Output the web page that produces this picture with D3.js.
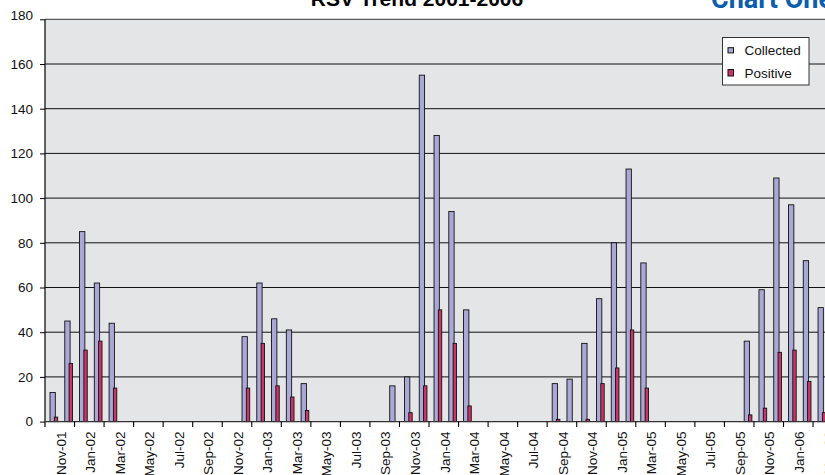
<!DOCTYPE html>
<html>
<head>
<meta charset="utf-8">
<script src="https://cdn.jsdelivr.net/npm/d3@7/dist/d3.min.js"></script>
<style>
  html, body { margin: 0; padding: 0; background: #fff; }
  svg { display: block; font-family: "Liberation Sans", Arial, sans-serif; }
</style>
</head>
<body>
<svg id="chart" width="825" height="475"></svg>
<script>
// Monthly RSV specimens, Nov 2001 – Mar 2006
const months = [
  "Nov-01","Dec-01",
  "Jan-02","Feb-02","Mar-02","Apr-02","May-02","Jun-02","Jul-02","Aug-02","Sep-02","Oct-02","Nov-02","Dec-02",
  "Jan-03","Feb-03","Mar-03","Apr-03","May-03","Jun-03","Jul-03","Aug-03","Sep-03","Oct-03","Nov-03","Dec-03",
  "Jan-04","Feb-04","Mar-04","Apr-04","May-04","Jun-04","Jul-04","Aug-04","Sep-04","Oct-04","Nov-04","Dec-04",
  "Jan-05","Feb-05","Mar-05","Apr-05","May-05","Jun-05","Jul-05","Aug-05","Sep-05","Oct-05","Nov-05","Dec-05",
  "Jan-06","Feb-06","Mar-06"
];

// Specimens collected (null = no testing that month)
const collected = [
  13, 45,
  85, 62, 44, null, null, null, null, null, null, null, null, 38,
  62, 46, 41, 17, null, null, null, null, null, 16, 20, 155,
  128, 94, 50, null, null, null, null, null, 17, 19, 35, 55,
  80, 113, 71, null, null, null, null, null, null, 36, 59, 109,
  97, 72, 51
];

// Specimens positive for RSV
const positive = [
  2, 26,
  32, 36, 15, null, null, null, null, null, null, null, null, 15,
  35, 16, 11, 5, null, null, null, null, null, 0, 4, 16,
  50, 35, 7, null, null, null, null, null, 1, 0, 1, 17,
  24, 41, 15, null, null, null, null, null, null, 3, 6, 31,
  32, 18, 4
];

const yTicks = [0, 20, 40, 60, 80, 100, 120, 140, 160, 180];
const seriesNames = ["Collected", "Positive"];
const seriesColors = ["#A9A9D8", "#CC3366"];

const svg = d3.select("#chart");

const plotLeft = 45, plotTop = 19.3, plotBottom = 421.6, step = 14.77;
const x = d3.scaleBand().domain(months).range([plotLeft, plotLeft + months.length * step]).padding(0);
const y = d3.scaleLinear().domain([0, 180]).range([plotBottom, plotTop]);
const bw = x.bandwidth();
const plotRight = x.range()[1];

// plot area
svg.append("rect")
  .attr("x", plotLeft).attr("y", plotTop)
  .attr("width", plotRight - plotLeft).attr("height", plotBottom - plotTop)
  .attr("fill", "#E4E5E7");

// horizontal gridlines
svg.append("g").selectAll("line")
  .data(yTicks.filter(v => v > 0))
  .join("line")
  .attr("x1", plotLeft).attr("x2", plotRight)
  .attr("y1", d => y(d)).attr("y2", d => y(d))
  .attr("stroke", d => d === 180 ? "#333" : "#111")
  .attr("stroke-width", 1);

// bars: collected sits left in each month, positive just to its right
const bars = svg.append("g");
const barGeom = [
  { off: 0.339, w: 0.36 },
  { off: 0.63, w: 0.23 }
];
[collected, positive].forEach((vals, si) => {
  bars.append("g").selectAll("rect")
    .data(months.map((m, i) => ({ m, v: vals[i] })).filter(d => d.v != null && d.v > 0))
    .join("rect")
    .attr("x", d => x(d.m) + bw * barGeom[si].off)
    .attr("width", bw * barGeom[si].w)
    .attr("y", d => y(d.v))
    .attr("height", d => y(0) - y(d.v))
    .attr("fill", seriesColors[si])
    .attr("stroke", "#111")
    .attr("stroke-width", 0.9);
});

// y axis
const yAxis = svg.append("g")
  .attr("transform", `translate(${plotLeft},0)`)
  .call(d3.axisLeft(y).tickValues(yTicks).tickSize(5).tickSizeOuter(0).tickPadding(7));
yAxis.select(".domain").attr("stroke", "#000").attr("stroke-width", 1.2)
  .attr("d", `M0,${plotTop}V${plotBottom + 5.5}`);
yAxis.selectAll(".tick line").attr("stroke", "#000");
yAxis.selectAll(".tick text")
  .attr("font-size", "13.5px")
  .attr("font-family", "Liberation Sans, Arial, sans-serif")
  .attr("fill", "#111");
// top label is nudged up to stay clear of the frame
yAxis.selectAll(".tick text").filter(d => d === 180).attr("transform", "translate(0,-4)");

// x axis baseline, tick marks every second month, labels between ticks
const gx = svg.append("g");
gx.append("line")
  .attr("x1", plotLeft).attr("x2", plotRight)
  .attr("y1", y(0)).attr("y2", y(0))
  .attr("stroke", "#333").attr("stroke-width", 1.4);

const labelMonths = months.filter((m, i) => i % 2 === 0);
gx.selectAll("line.tick")
  .data(labelMonths.slice(1))
  .join("line")
  .attr("class", "tick")
  .attr("x1", d => x(d)).attr("x2", d => x(d))
  .attr("y1", y(0)).attr("y2", y(0) + 5.5)
  .attr("stroke", "#000").attr("stroke-width", 1.1);

gx.selectAll("text")
  .data(labelMonths)
  .join("text")
  .attr("transform", d => `translate(${x(d) + bw + 1},431.5) rotate(-90)`)
  .attr("text-anchor", "end")
  .attr("dy", "0.35em")
  .attr("font-size", "13.5px")
  .attr("fill", "#111")
  .text(d => d);

// titles
svg.append("text")
  .attr("x", 417).attr("y", 6)
  .attr("text-anchor", "middle")
  .attr("font-size", "21px")
  .attr("font-weight", "bold")
  .attr("fill", "#000")
  .text("RSV Trend 2001-2006");

svg.append("text")
  .attr("x", 711).attr("y", 8)
  .attr("font-family", "Roboto, 'Liberation Sans', sans-serif")
  .attr("font-size", "27px")
  .attr("font-weight", "bold")
  .attr("fill", "#0A5EAB")
  .text("Chart One");

// legend
const lg = svg.append("g").attr("transform", "translate(722.5,37.5)");
lg.append("rect")
  .attr("width", 86.5).attr("height", 47.5)
  .attr("fill", "#fff").attr("stroke", "#333").attr("stroke-width", 1);
seriesNames.forEach((name, i) => {
  const row = lg.append("g").attr("transform", `translate(0,${13 + i * 22.5})`);
  row.append("rect")
    .attr("x", 5.5).attr("y", i === 0 ? -2.8 : -3.5)
    .attr("width", 5.5).attr("height", i === 0 ? 5.2 : 6.5)
    .attr("fill", seriesColors[i]).attr("stroke", "#111").attr("stroke-width", 1);
  row.append("text")
    .attr("x", 22).attr("y", 0).attr("dy", "0.35em")
    .attr("font-size", "13.5px").attr("fill", "#111")
    .text(name);
});
</script>
</body>
</html>
